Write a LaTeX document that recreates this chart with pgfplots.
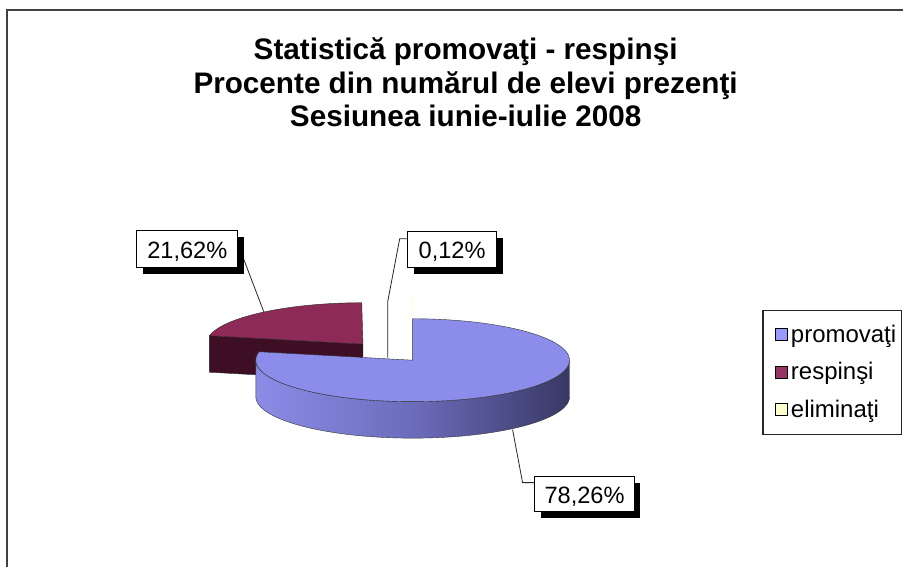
\documentclass[border=0pt]{standalone}
\usepackage{fontspec}
\setmainfont{Liberation Sans}
\usepackage{pgfplots}
\usepackage{pgfplotstable}
\pgfplotsset{compat=1.18}

\definecolor{bluetop}{RGB}{140,140,234}
\definecolor{blueL}{RGB}{140,140,232}
\definecolor{blueM}{RGB}{108,108,188}
\definecolor{blueR}{RGB}{56,56,100}
\definecolor{redtop}{RGB}{142,42,88}
\definecolor{redside}{RGB}{62,14,36}
\definecolor{legblue}{RGB}{153,153,255}
\definecolor{legred}{RGB}{153,51,102}
\definecolor{legyellow}{RGB}{255,255,204}

\pgfplotstableread{
name value
promovati 78.26
respinsi 21.62
eliminati 0.12
}\piedata

\begin{document}
\begin{tikzpicture}
\pgfplotstablegetelem{0}{value}\of\piedata \pgfmathsetmacro\vA{\pgfplotsretval}
\pgfplotstablegetelem{1}{value}\of\piedata \pgfmathsetmacro\vB{\pgfplotsretval}
\pgfplotstablegetelem{2}{value}\of\piedata \pgfmathsetmacro\vC{\pgfplotsretval}
\pgfmathsetmacro\aA{0}
\pgfmathsetmacro\aB{3.6*\vA}
\pgfmathsetmacro\aC{3.6*(\vA+\vB)}
\pgfmathsetmacro\aD{3.6*(\vA+\vB+\vC)}
\def\cx{413}\def\cy{360.5}\def\rx{157}\def\ry{41.5}\def\dep{36.5}
% exploded slices
\pgfmathsetmacro\bR{(\aB+\aC)/2}
\pgfmathsetmacro\rcx{\cx+0.5*\rx*sin(\bR)}
\pgfmathsetmacro\rcy{\cy-0.5*\ry*cos(\bR)}
\pgfmathsetmacro\rcyd{\rcy+\dep}
\pgfmathsetmacro\pAx{\rcx+\rx*sin(\aB)}
\pgfmathsetmacro\pAy{\rcy-\ry*cos(\aB)}
\pgfmathsetmacro\pAyd{\pAy+\dep}
\pgfmathsetmacro\bY{(\aC+\aD)/2}
\pgfmathsetmacro\ycx{\cx+0.5*\rx*sin(\bY)}
\pgfmathsetmacro\ycy{\cy-0.5*\ry*cos(\bY)}
\begin{axis}[
  width=904pt, height=567pt, scale only axis,
  xmin=0, xmax=904, ymin=0, ymax=567, y dir=reverse,
  hide axis, clip=false,
  legend style={at={(axis cs:763,310)}, anchor=north west, draw=black!85, line width=1.2pt,
    fill=white, inner xsep=4pt, inner ysep=14pt, row sep=16.5pt, column sep=2pt,
    font=\fontsize{24}{24}\selectfont,
    nodes={inner sep=1pt, text height=17pt, text depth=2pt}},
  legend cell align=left,
  legend image code/.code={\path (0pt,0pt); \draw[#1, draw=black, line width=0.8pt] (8pt,-6pt) rectangle (20pt,6pt);},
]
\fill[white] (axis cs:0,0) rectangle (axis cs:904,567);
\draw[black!75, line width=1.5pt] (axis cs:7,567) -- (axis cs:7,10) -- (axis cs:904,10);

% red slice (exploded): cut face, then top face
\edef\temp{\noexpand\addplot[fill=redside, draw=black!85, line width=0.4pt, forget plot]
  coordinates {(\pAx,\pAy) (\rcx,\rcy) (\rcx,\rcyd) (\pAx,\pAyd) (\pAx,\pAy)};}
\temp
\addplot[fill=redtop, draw=black!85, line width=0.4pt, domain=0:1, samples=60, variable=\t, forget plot]
  ({\rcx+\rx*sin(\aB+(\aC-\aB)*\t)}, {\rcy-\ry*cos(\aB+(\aC-\aB)*\t)}) -- (axis cs:\rcx,\rcy) -- cycle;
% yellow sliver
\addplot[fill=legyellow, draw=none, domain=0:1, samples=5, variable=\t, forget plot]
  ({\ycx+\rx*sin(\aC+(\aD-\aC)*\t)}, {\ycy-\ry*cos(\aC+(\aD-\aC)*\t)}) -- (axis cs:\ycx,\ycy) -- cycle;
% blue slice: side then top
\addplot[left color=blueL, right color=blueR, middle color=blueM, draw=black!80, line width=0.4pt,
  domain=0:2, samples=161, variable=\t, forget plot]
  ({\cx+\rx*sin(\t<=1 ? 90+180*\t : 450-180*\t)},
   {\cy-\ry*cos(\t<=1 ? 90+180*\t : 450-180*\t) + (\t>1 ? \dep : 0)});
\addplot[fill=bluetop, draw=black!80, line width=0.4pt, domain=0:1, samples=120, variable=\t, forget plot]
  ({\cx+\rx*sin(\aA+(\aB-\aA)*\t)}, {\cy-\ry*cos(\aA+(\aB-\aA)*\t)}) -- (axis cs:\cx,\cy) -- cycle;

% legend
\addlegendimage{fill=legblue}
\addlegendentry{promovaţi}
\addlegendimage{fill=legred}
\addlegendentry{respinşi}
\addlegendimage{fill=legyellow}
\addlegendentry{eliminaţi}

% title
\node[anchor=base, font=\fontsize{29.7}{34}\selectfont\bfseries] at (axis cs:466,60) {Statistică promovaţi - respinşi};
\node[anchor=base, font=\fontsize{29.7}{34}\selectfont\bfseries] at (axis cs:466,93.5) {Procente din numărul de elevi prezenţi};
\node[anchor=base, font=\fontsize{29.7}{34}\selectfont\bfseries] at (axis cs:466,127) {Sesiunea iunie-iulie 2008};

% leader lines
\draw[black!85, line width=0.8pt] (axis cs:243,257) -- (axis cs:264,312);
\draw[black!85, line width=0.8pt] (axis cs:408,239) -- (axis cs:400,239) -- (axis cs:388,302) -- (axis cs:388,358);
\draw[black!85, line width=0.8pt] (axis cs:513,430) -- (axis cs:523,483) -- (axis cs:535,483);

% data labels
\fill[black] (axis cs:143,237) rectangle (axis cs:244,274);
\draw[fill=white, line width=1pt] (axis cs:137,231) rectangle (axis cs:238,268);
\node[anchor=base, font=\fontsize{23.6}{24}\selectfont] at (axis cs:187.5,258.5) {21,62\%};
\fill[black] (axis cs:414,238) rectangle (axis cs:503,274);
\draw[fill=white, line width=1pt] (axis cs:408,232) rectangle (axis cs:497,268);
\node[anchor=base, font=\fontsize{23.6}{24}\selectfont] at (axis cs:452.5,259) {0,12\%};
\fill[black] (axis cs:541,483) rectangle (axis cs:641,518);
\draw[fill=white, line width=1pt] (axis cs:535,477) rectangle (axis cs:635,512);
\node[anchor=base, font=\fontsize{23.6}{24}\selectfont] at (axis cs:585,503.5) {78,26\%};
\end{axis}
\end{tikzpicture}
\end{document}
